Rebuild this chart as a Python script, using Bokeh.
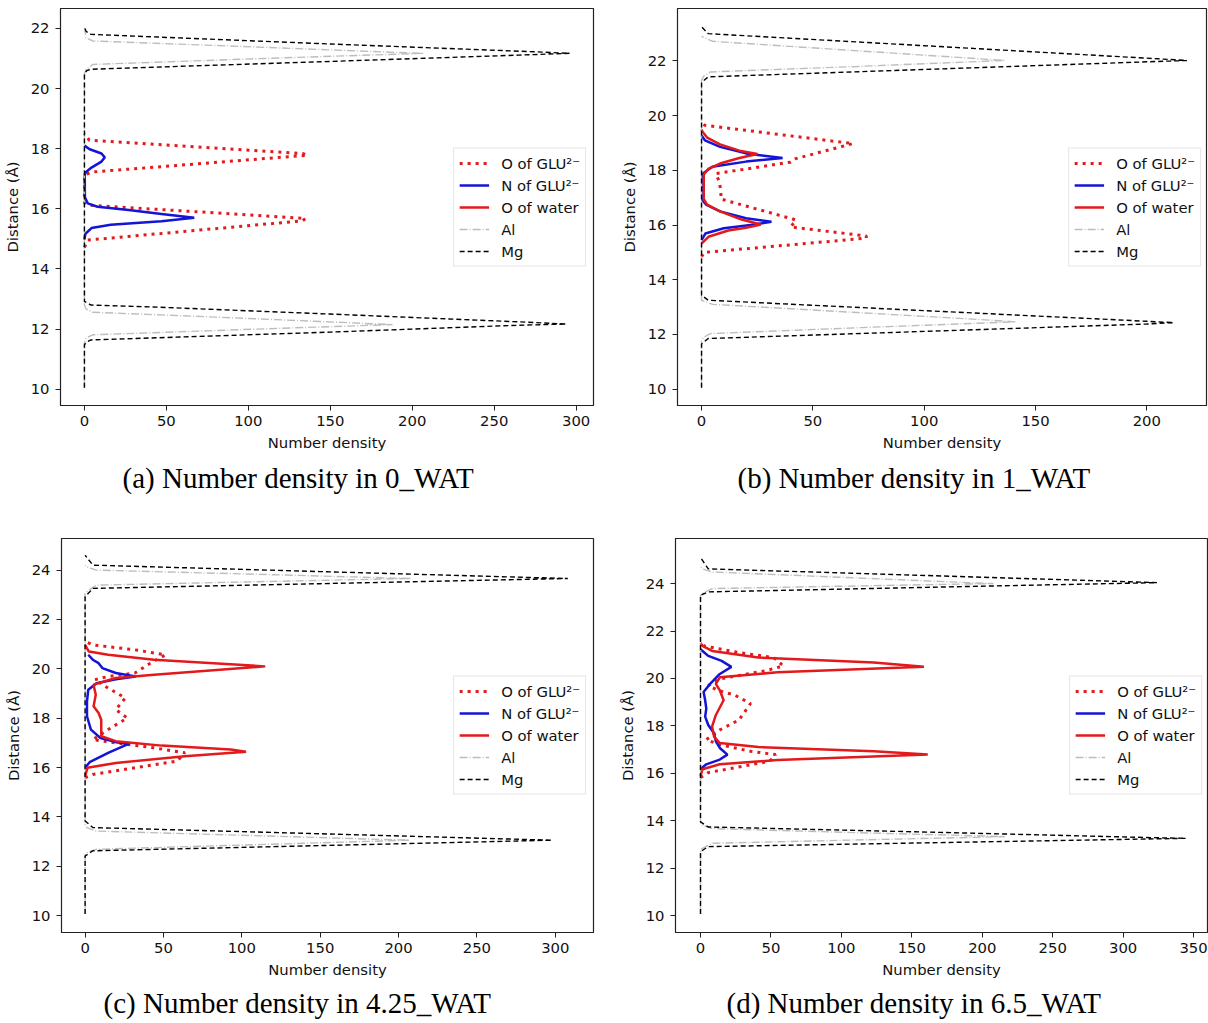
import numpy as np
from bokeh.plotting import figure
from bokeh.models import Range1d, FixedTicker, Title
from bokeh.layouts import column, row
from bokeh.embed import file_html
from bokeh.resources import INLINE

# ---------------- labels ----------------
series_labels = ["O of GLU\u00b2\u207b", "N of GLU\u00b2\u207b", "O of water", "Al", "Mg"]
x_label = "Number density"
y_label = "Distance (\u00c5)"
captions = ["(a) Number density in 0_WAT", "(b) Number density in 1_WAT",
            "(c) Number density in 4.25_WAT", "(d) Number density in 6.5_WAT"]

x_ticks_a = [0, 50, 100, 150, 200, 250, 300]
x_ticks_b = [0, 50, 100, 150, 200]
x_ticks_c = [0, 50, 100, 150, 200, 250, 300]
x_ticks_d = [0, 50, 100, 150, 200, 250, 300, 350]
y_ticks_a = [10, 12, 14, 16, 18, 20, 22]
y_ticks_b = [10, 12, 14, 16, 18, 20, 22]
y_ticks_c = [10, 12, 14, 16, 18, 20, 22, 24]
y_ticks_d = [10, 12, 14, 16, 18, 20, 22, 24]

# ---------------- (a) 0_WAT ----------------
a_oglu_dist = [14.72, 14.96, 15.6, 15.68, 16.12, 16.2, 17.12, 17.22, 17.78, 17.84, 18.28, 18.5]
a_oglu_dens = [0, 2, 133, 135, 3, 0, 0, 4, 136, 133, 3, 0]
a_nglu_dist = [14.98, 15.17, 15.36, 15.47, 15.59, 15.7, 15.83, 15.96, 16.07, 16.18, 16.38,
               17.1, 17.21, 17.37, 17.57, 17.71, 17.84, 17.98, 18.1]
a_nglu_dens = [0, 0.6, 4.3, 16, 47, 67, 47, 27, 8, 2, 0.3, 0.2, 0.6, 4.3, 10.4, 12.4, 10.4, 3.2, 0]
a_wat_dist = []   # no water in 0_WAT
a_wat_dens = []
a_al_dist = [10.05, 11.55, 11.7, 11.81, 12.0, 12.15, 12.18, 12.4, 12.56, 12.67, 12.8,
             20.5, 20.62, 20.8, 21.0, 21.17, 21.2, 21.4, 21.58, 21.69, 22.0]
a_al_dens = [0, 0, 1, 5, 105, 188, 175, 80, 5, 1, 0, 0, 1, 5, 110, 207, 190, 95, 5, 1, 0]
a_mg_dist = [10.05, 11.48, 11.58, 11.64, 11.9, 12.12, 12.17, 12.23, 12.5, 12.74, 12.8, 12.92,
             20.5, 20.6, 20.64, 20.9, 21.11, 21.17, 21.22, 21.48, 21.71, 21.8, 21.9, 22.05]
a_mg_dens = [0, 0, 1.5, 4, 150, 260, 294, 270, 150, 40, 4, 0,
             0, 1.5, 4, 150, 265, 296, 275, 150, 45, 4, 1, 0]

# ---------------- (b) 1_WAT ----------------
b_oglu_dist = [14.84, 15.0, 15.52, 15.6, 15.93, 16.18, 16.22, 16.95, 17.25, 17.6, 17.88,
               18.3, 18.43, 18.98, 19.65, 19.77]
b_oglu_dens = [0, 1.2, 74, 74, 40, 42.4, 41, 8.7, 8.7, 7.9, 6.4, 40, 42.4, 68, 1.4, 0]
b_nglu_dist = [15.45, 15.69, 15.88, 16.0, 16.12, 16.25, 16.5, 16.75, 16.9, 17.88, 18.13,
               18.32, 18.45, 18.62, 18.86, 19.1, 19.28]
b_nglu_dens = [0, 1.7, 10, 22, 31.4, 20, 8.3, 2, 0.5, 0.5, 4.8, 20, 36.4, 20, 8.3, 1.5, 0]
b_wat_dist = [15.32, 15.57, 15.8, 15.9, 16.02, 16.2, 16.5, 16.75, 16.95, 17.85, 18.05, 18.25,
              18.45, 18.6, 18.72, 18.95, 19.2, 19.4, 19.5]
b_wat_dens = [0, 3.1, 12, 20, 26.6, 18, 8.3, 2.5, 1, 1, 3, 8.3, 17, 25.1, 17, 8.3, 2.5, 0.5, 0]
b_al_dist = [10.05, 11.75, 11.9, 12.03, 12.25, 12.46, 12.52, 12.8, 13.1, 13.25,
             21.3, 21.45, 21.6, 21.8, 22.02, 22.08, 22.4, 22.72, 22.9]
b_al_dens = [0, 0, 1, 4, 72, 141, 130, 70, 5, 0, 0, 1, 4, 70, 136, 125, 65, 5, 0]
b_mg_dist = [10.05, 11.65, 11.85, 12.11, 12.38, 12.43, 12.48, 12.87, 13.25, 13.43,
             21.22, 21.42, 21.69, 21.97, 22.02, 22.08, 22.56, 23.0, 23.25]
b_mg_dens = [0, 0, 3, 100, 200, 212, 200, 100, 3, 0, 0, 3, 100, 200, 218, 205, 100, 3, 0]

# ---------------- (c) 4.25_WAT ----------------
c_oglu_dist = [15.59, 15.72, 16.26, 16.6, 16.8, 17.0, 17.13, 17.54, 18.01, 18.35, 18.82, 19.22,
               19.56, 19.69, 19.83, 20.23, 20.57, 20.77, 20.97, 21.11]
c_oglu_dens = [0, 4.9, 58.7, 63.6, 44, 19.6, 4.9, 14.7, 26.9, 19.6, 25.7, 14.7,
               6.1, 14.7, 31.8, 41.6, 51.3, 31.8, 4.9, 0]
c_nglu_dist = [15.99, 16.22, 16.6, 16.97, 17.03, 17.2, 17.54, 18.08, 18.68, 19.15, 19.42, 19.58,
               19.69, 19.83, 20.03, 20.23, 20.37, 20.57]
c_nglu_dens = [0, 2.9, 14.7, 28.1, 19.6, 9.8, 3.7, 1.2, 1.2, 2, 7.3, 19.6, 32.3, 19.6, 11, 8.6, 4.9, 2]
c_wat_dist = [15.65, 15.99, 16.19, 16.46, 16.64, 16.73, 16.89, 17.07, 17.27, 17.94, 18.21, 18.48,
              18.95, 19.36, 19.63, 19.76, 20.1, 20.37, 20.57, 20.7, 20.97]
c_wat_dens = [0, 1.5, 19.6, 63.6, 102.7, 92.9, 48.9, 19.6, 10.3, 10.3, 8.6, 5.4,
              6.8, 5.4, 19.6, 44, 114.9, 44, 14.7, 2.4, 0]
c_al_dist = [10.07, 12.5, 12.56, 12.69, 12.88, 13.06, 13.08, 13.24, 13.43, 13.57, 13.65,
             23.05, 23.12, 23.39, 23.53, 23.66, 23.69, 23.83, 24.0, 24.13, 24.2]
c_al_dens = [0, 0, 1.2, 7, 110, 207, 195, 110, 7, 1.2, 0,
             0, 1.2, 7, 110, 208, 190, 110, 7, 1.2, 0]
c_mg_dist = [10.07, 12.42, 12.63, 12.84, 13.06, 13.09, 13.32, 13.57, 13.84,
             22.92, 23.26, 23.45, 23.66, 23.69, 23.94, 24.2, 24.6]
c_mg_dens = [0, 0, 4.9, 150, 298, 280, 150, 4.9, 0,
             0, 5, 150, 308, 290, 150, 5, 0]

# ---------------- (d) 6.5_WAT ----------------
d_oglu_dist = [15.82, 16.03, 16.51, 16.79, 16.93, 17.21, 17.42, 17.83, 18.25, 18.94, 19.29, 19.5,
               19.7, 19.98, 20.33, 20.53, 20.88, 21.09, 21.37, 21.5]
d_oglu_dens = [0, 5.5, 49.2, 53.3, 35.5, 13.7, 4.1, 13.7, 27.3, 35.5, 24.6, 12.3,
               5.5, 13.7, 46.5, 58.8, 52, 27.3, 2.7, 0]
d_nglu_dist = [16.17, 16.38, 16.58, 16.79, 17.07, 17.35, 17.69, 18.04, 18.39, 18.73, 19.08, 19.43,
               19.77, 20.19, 20.49, 20.74, 20.95, 21.16, 21.23]
d_nglu_dens = [0, 4.1, 13.7, 19.1, 13.7, 10.9, 9.6, 5.5, 3.3, 4.1, 3.3, 2.2,
               6.8, 13.7, 21.9, 15, 5.5, 1.4, 0]
d_wat_dist = [15.89, 16.17, 16.38, 16.56, 16.79, 16.93, 17.11, 17.28, 17.55, 17.97, 18.46, 19.08,
              19.5, 19.77, 20.05, 20.26, 20.49, 20.67, 20.88, 21.16, 21.37, 21.5]
d_wat_dens = [0, 1.4, 13.7, 54.7, 161.3, 123, 41, 13.7, 9.6, 8.2, 10.9, 16.4,
              13.7, 10.9, 13.7, 54.7, 158.6, 123, 41, 8.2, 1.4, 0]
d_al_dist = [10.07, 12.78, 12.84, 13.05, 13.19, 13.33, 13.36, 13.5, 13.67, 13.81, 13.9,
             23.5, 23.58, 23.79, 23.9, 24.0, 24.04, 24.24, 24.49, 24.62, 24.7]
d_al_dens = [0, 0, 1.4, 8.2, 110, 216, 200, 110, 8.2, 1.4, 0,
             0, 1.4, 8.2, 110, 208, 190, 110, 8.2, 1.4, 0]
d_mg_dist = [10.07, 12.7, 12.91, 13.08, 13.26, 13.29, 13.51, 13.74, 13.95,
             23.51, 23.65, 23.84, 24.04, 24.075, 24.34, 24.62, 25.1]
d_mg_dens = [0, 0, 5.5, 170, 344.5, 320, 170, 5.5, 0,
             0, 5.5, 160, 324, 305, 160, 5.5, 0]

# ---------------- styling ----------------
RED = "#e3191c"
BLUE = "#1414d6"
GRAY = "#bdbdbd"
SANS = "DejaVu Sans"
FS = "14.8px"


def as_xy(x, y):
    # an empty series still needs a legend entry: give it a single NaN point (draws nothing)
    if len(x) == 0:
        return np.array([np.nan]), np.array([np.nan])
    return x, y


def make_panel(series, caption, xt, yt, xr, yr, w, h, bl, br, bt, bb, cap_offset, cap_standoff, leg_margin):
    p = figure(width=w, height=h, x_range=Range1d(*xr), y_range=Range1d(*yr),
               output_backend="svg", toolbar_location=None, title_location=None,
               min_border_left=bl, min_border_right=br, min_border_top=bt, min_border_bottom=bb)
    p.background_fill_color = "white"
    p.border_fill_color = "white"
    p.outline_line_color = "#222222"
    p.outline_line_width = 1.2
    p.xgrid.visible = False
    p.ygrid.visible = False

    (og_x, og_y), (ng_x, ng_y), (w_x, w_y), (al_x, al_y), (mg_x, mg_y) = [as_xy(*s) for s in series]
    p.line(og_x, og_y, line_color=RED, line_width=3, line_dash="3 5", legend_label=series_labels[0])
    p.line(ng_x, ng_y, line_color=BLUE, line_width=2.5, legend_label=series_labels[1])
    p.line(w_x, w_y, line_color=RED, line_width=2.5, legend_label=series_labels[2])
    p.line(al_x, al_y, line_color=GRAY, line_width=1.4, line_dash="8 2 1 2", legend_label=series_labels[3])
    p.line(mg_x, mg_y, line_color="black", line_width=1.4, line_dash="5 3", legend_label=series_labels[4])

    for ax in (p.xaxis[0], p.yaxis[0]):
        ax.major_tick_in = 0
        ax.major_tick_out = 5
        ax.minor_tick_line_color = None
        ax.axis_line_color = "#222222"
        ax.major_tick_line_color = "#222222"
        ax.major_label_text_font = SANS
        ax.major_label_text_font_size = FS
        ax.major_label_text_color = "#111111"
        ax.axis_label_text_font = SANS
        ax.axis_label_text_font_size = FS
        ax.axis_label_text_font_style = "normal"
        ax.axis_label_text_color = "#111111"
    p.xaxis[0].ticker = FixedTicker(ticks=xt)
    p.yaxis[0].ticker = FixedTicker(ticks=yt)
    p.xaxis[0].axis_label = x_label
    p.yaxis[0].axis_label = y_label
    p.xaxis[0].major_label_standoff = 5
    p.xaxis[0].axis_label_standoff = 5
    p.yaxis[0].major_label_standoff = 6
    p.yaxis[0].axis_label_standoff = 7

    lg = p.legend[0]
    lg.location = "center_right"
    lg.margin = leg_margin
    lg.padding = 5
    lg.spacing = 3
    lg.glyph_width = 30
    lg.glyph_height = 19
    lg.label_height = 19
    lg.label_standoff = 12
    lg.label_text_font = SANS
    lg.label_text_font_size = FS
    lg.label_text_color = "#111111"
    lg.border_line_color = "#cccccc"
    lg.border_line_width = 1
    lg.background_fill_color = "white"
    lg.background_fill_alpha = 0.8

    cap = Title(text=caption, align="left", offset=cap_offset, text_font="Liberation Serif",
                text_font_size="29px", text_font_style="normal", text_color="black",
                standoff=cap_standoff)
    p.add_layout(cap, "below")
    return p


pa = make_panel([(a_oglu_dens, a_oglu_dist), (a_nglu_dens, a_nglu_dist), (a_wat_dens, a_wat_dist),
                 (a_al_dens, a_al_dist), (a_mg_dens, a_mg_dist)],
                captions[0], x_ticks_a, y_ticks_a, (-14.6, 310.6), (9.46, 22.66),
                604, 520, 59, 11, 7, 115, 62, 13, 7)
pb = make_panel([(b_oglu_dens, b_oglu_dist), (b_nglu_dens, b_nglu_dist), (b_wat_dens, b_wat_dist),
                 (b_al_dens, b_al_dist), (b_mg_dens, b_mg_dist)],
                captions[1], x_ticks_b, y_ticks_b, (-10.8, 226.8), (9.40, 23.92),
                604, 520, 73, 2, 8, 115, 60, 13, 5)
pc = make_panel([(c_oglu_dens, c_oglu_dist), (c_nglu_dens, c_nglu_dist), (c_wat_dens, c_wat_dist),
                 (c_al_dens, c_al_dist), (c_mg_dens, c_mg_dist)],
                captions[2], x_ticks_c, y_ticks_c, (-15.06, 324.4), (9.32, 25.28),
                604, 503, 61, 11, 18, 90, 42, 9, 7)
pd_ = make_panel([(d_oglu_dens, d_oglu_dist), (d_nglu_dens, d_nglu_dist), (d_wat_dens, d_wat_dist),
                  (d_al_dens, d_al_dist), (d_mg_dens, d_mg_dist)],
                 captions[3], x_ticks_d, y_ticks_d, (-17.75, 359.9), (9.29, 25.9),
                 604, 503, 71, 1, 13, 91, 51, 9, 5)

layout = column(row(pa, pb), row(pc, pd_))
open("out.html", "w").write(file_html(layout, INLINE))
